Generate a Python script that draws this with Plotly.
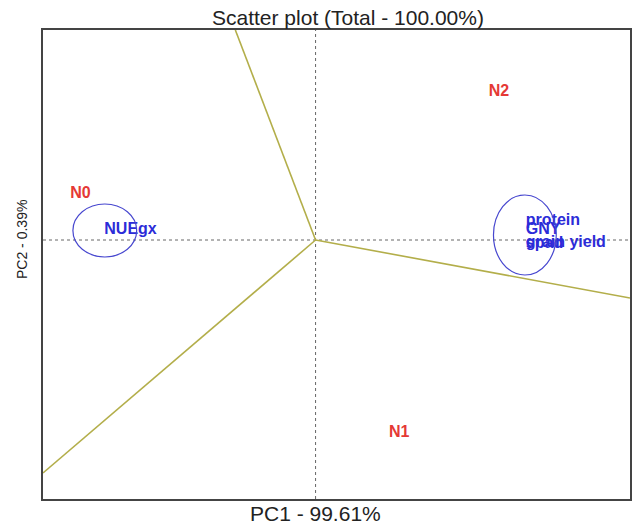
import plotly.graph_objects as go

# Treatments (red labels): PC1, PC2 scores
treat_names = ["N0", "N1", "N2"]
treat_pc1 = [-2.36, 0.84, 1.84]
treat_pc2 = [0.46, -1.93, 1.48]

# Traits (blue labels): label anchor (left edge) PC1, PC2
trait_names = ["NUEgx", "protein", "GNY", "spad", "grain yield"]
trait_pc1 = [-2.12, 2.11, 2.11, 2.11, 2.11]
trait_pc2 = [0.10, 0.19, 0.10, -0.04, -0.03]

# Ellipses around trait clusters: center and radii
ell_cx = [-2.115, 2.10]
ell_cy = [0.095, 0.05]
ell_rx = [0.32, 0.315]
ell_ry = [0.265, 0.40]

# Rays from origin (end points at plot edge)
ray_x = [-0.805, 3.155, -2.735]
ray_y = [2.10, -0.58, -2.33]

x_range = [-2.735, 3.155]
y_range = [-2.59, 2.10]

fig = go.Figure()

ray_col = "#b3ae4a"
for rx, ry in zip(ray_x, ray_y):
    fig.add_trace(go.Scatter(x=[0, rx], y=[0, ry], mode="lines",
                             line=dict(color=ray_col, width=1.6),
                             hoverinfo="skip", showlegend=False))

fig.add_trace(go.Scatter(x=treat_pc1, y=treat_pc2, mode="text", text=treat_names,
                         textposition="middle center",
                         textfont=dict(family="Liberation Sans", size=16, color="#e53935", weight="bold"),
                         showlegend=False))

fig.add_trace(go.Scatter(x=trait_pc1, y=trait_pc2, mode="text", text=trait_names,
                         textposition="middle right",
                         textfont=dict(family="Liberation Sans", size=16, color="#2c2cd8", weight="bold"),
                         showlegend=False))

shapes = []
for cx, cy, a, b in zip(ell_cx, ell_cy, ell_rx, ell_ry):
    shapes.append(dict(type="circle", xref="x", yref="y", x0=cx - a, x1=cx + a, y0=cy - b, y1=cy + b,
                       line=dict(color="#4747cf", width=1.2), layer="above"))
shapes.append(dict(type="line", xref="x", yref="paper", x0=0, x1=0, y0=0, y1=1,
                   line=dict(color="#666666", width=1, dash="dot"), layer="below"))
shapes.append(dict(type="line", xref="paper", yref="y", x0=0, x1=1, y0=0, y1=0,
                   line=dict(color="#666666", width=1, dash="dot"), layer="below"))

fig.update_layout(
    width=643, height=526,
    margin=dict(l=43, r=11, t=30, b=27),
    plot_bgcolor="white", paper_bgcolor="white",
    shapes=shapes,
    showlegend=False,
    annotations=[
        dict(text="Scatter plot (Total - 100.00%)", xref="paper", yref="paper", x=0.52, y=1,
             yshift=13, showarrow=False, xanchor="center", yanchor="middle",
             font=dict(family="Liberation Sans", size=21, color="#222222")),
        dict(text="PC1 - 99.61%", xref="x", yref="paper", x=0, y=0, yshift=-14,
             showarrow=False, xanchor="center", yanchor="middle",
             font=dict(family="Liberation Sans", size=21, color="#222222")),
        dict(text="PC2 - 0.39%", xref="paper", yref="y", x=0, y=0, xshift=-21, textangle=-90,
             showarrow=False, xanchor="center", yanchor="middle",
             font=dict(family="Liberation Sans", size=14, color="#222222")),
    ],
)
fig.update_xaxes(range=x_range, showgrid=False, zeroline=False, showticklabels=False, ticks="",
                 showline=True, mirror=True, linecolor="#444444", linewidth=2)
fig.update_yaxes(range=y_range, showgrid=False, zeroline=False, showticklabels=False, ticks="",
                 showline=True, mirror=True, linecolor="#444444", linewidth=2)

fig.write_html("out.html", config={"displayModeBar": False},
               post_script="document.body.style.margin='0px';document.body.style.overflow='hidden';")
